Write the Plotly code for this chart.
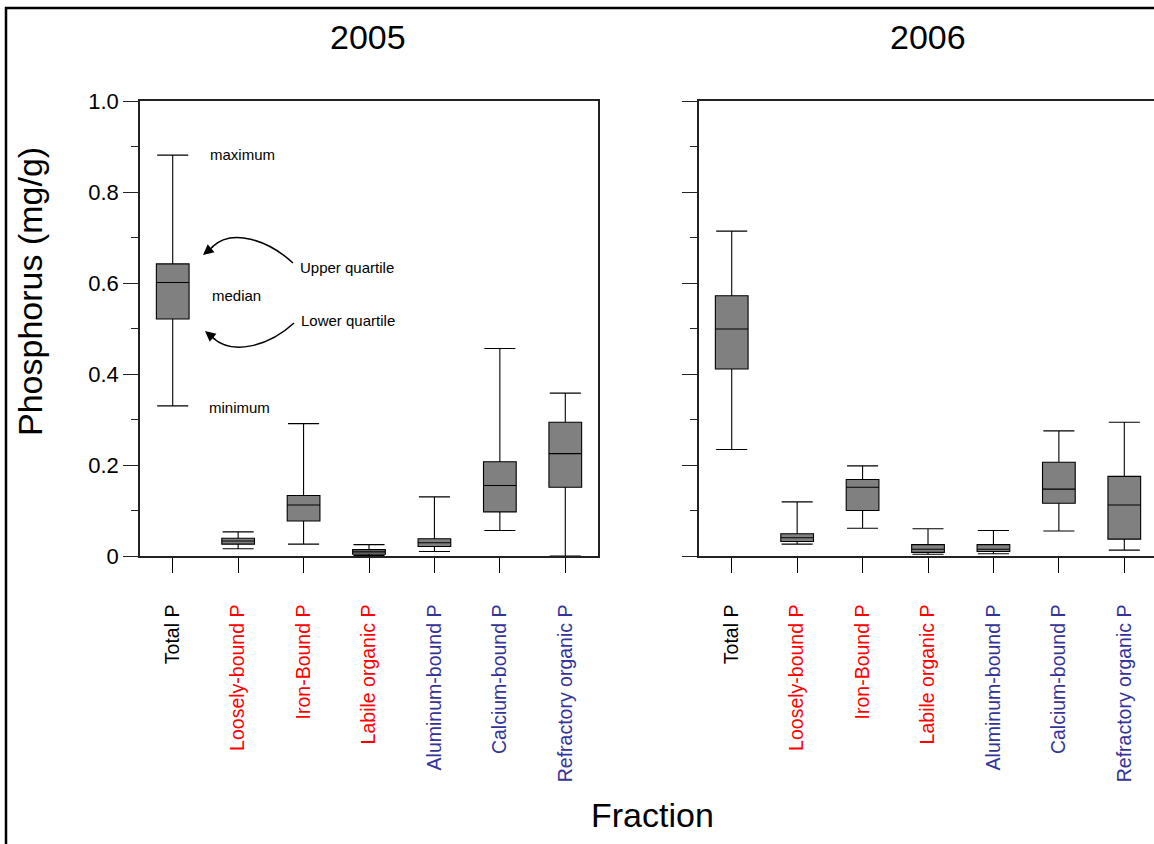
import plotly.graph_objects as go

W, H = 1154, 844

categories = ["Total P", "Loosely-bound P", "Iron-Bound P", "Labile organic P",
              "Aluminum-bound P", "Calcium-bound P", "Refractory organic P"]
label_colors = ["black", "red", "red", "red", "#333399", "#333399", "#333399"]

# 2005
min_2005 = [0.330, 0.016, 0.026, 0.001, 0.010, 0.056, 0.000]
q1_2005 = [0.521, 0.026, 0.077, 0.004, 0.021, 0.097, 0.151]
med_2005 = [0.601, 0.033, 0.112, 0.009, 0.029, 0.155, 0.225]
q3_2005 = [0.642, 0.039, 0.133, 0.014, 0.038, 0.207, 0.294]
max_2005 = [0.881, 0.053, 0.291, 0.025, 0.130, 0.456, 0.358]

# 2006
min_2006 = [0.234, 0.026, 0.061, 0.004, 0.005, 0.055, 0.013]
q1_2006 = [0.411, 0.032, 0.100, 0.008, 0.010, 0.116, 0.037]
med_2006 = [0.499, 0.040, 0.151, 0.015, 0.015, 0.147, 0.112]
q3_2006 = [0.572, 0.049, 0.168, 0.025, 0.025, 0.206, 0.175]
max_2006 = [0.714, 0.119, 0.198, 0.060, 0.056, 0.275, 0.294]

ytick_vals = [0, 0.2, 0.4, 0.6, 0.8, 1.0]
ytick_text = ["0", "0.2", "0.4", "0.6", "0.8", "1.0"]

FONT = "Liberation Sans, Arial, sans-serif"


def px(x):
    return x / W


def py(y):
    return 1 - y / H


fig = go.Figure()

box_style = dict(fillcolor="#808080", line=dict(color="black", width=1.1),
                 width=0.5, whiskerwidth=0.95, boxpoints=False,
                 showlegend=False, hoverinfo="skip")

fig.add_trace(go.Box(x=categories, q1=q1_2005, median=med_2005, q3=q3_2005,
                     lowerfence=min_2005, upperfence=max_2005,
                     xaxis="x", yaxis="y", **box_style))
fig.add_trace(go.Box(x=categories, q1=q1_2006, median=med_2006, q3=q3_2006,
                     lowerfence=min_2006, upperfence=max_2006,
                     xaxis="x2", yaxis="y2", **box_style))

ticktext = [f"<span style='color:{c}'>{t}</span>" for t, c in zip(categories, label_colors)]

axis_line = dict(showline=True, linecolor="#222", linewidth=1.5, showgrid=False,
                 zeroline=False, automargin=False)

xcommon = dict(type="category", tickmode="array", tickvals=categories,
               ticktext=ticktext, tickangle=-90, ticks="outside", ticklen=15,
               tickcolor="black", tickwidth=1, ticklabelstandoff=24,
               tickfont=dict(size=19.5, family=FONT), **axis_line)

ycommon = dict(range=[0, 1.0], tickmode="array", tickvals=ytick_vals,
               ticks="outside", ticklen=15, tickcolor="#222", tickwidth=1,
               minor=dict(ticks="outside", ticklen=7, dtick=0.1, tickcolor="#222",
                          tickwidth=1, showgrid=False),
               domain=[py(556), py(101)], **axis_line)

fig.update_layout(
    template="none",
    width=W, height=H,
    margin=dict(l=0, r=0, t=0, b=0, pad=0),
    paper_bgcolor="white", plot_bgcolor="white",
    font=dict(family=FONT, color="black"),
    xaxis=dict(domain=[px(140), px(598)], range=[-0.5, 6.5], anchor="y",
               mirror=True, **xcommon),
    xaxis2=dict(domain=[px(699), 1.0], range=[-0.5, -0.5 + 455 / 65.43],
                anchor="y2", mirror=True, **xcommon),
    yaxis=dict(anchor="x", mirror=True, ticktext=ytick_text,
               tickfont=dict(size=22, family=FONT), **ycommon),
    yaxis2=dict(anchor="x2", mirror=False, showticklabels=False, **ycommon),
)

annotations = [
    dict(text="2005", x=px(368), y=py(37), font=dict(size=34)),
    dict(text="2006", x=px(928), y=py(37), font=dict(size=34)),
    dict(text="Fraction", x=px(652), y=py(815), font=dict(size=34)),
    dict(text="Phosphorus (mg/g)", x=px(30), y=py(292), font=dict(size=34),
         textangle=-90),
    dict(text="maximum", x=px(208), y=py(155), font=dict(size=15), xanchor="left"),
    dict(text="median", x=px(210), y=py(295), font=dict(size=15), xanchor="left"),
    dict(text="minimum", x=px(207), y=py(407), font=dict(size=15), xanchor="left"),
    dict(text="Upper quartile", x=px(298), y=py(267), font=dict(size=15), xanchor="left"),
    dict(text="Lower quartile", x=px(299), y=py(321), font=dict(size=15), xanchor="left"),
]
for a in annotations:
    a.setdefault("xanchor", "center")
    a.update(xref="paper", yref="paper", showarrow=False, yanchor="middle")

# arrowheads for the curved pointers
annotations += [
    dict(x=px(203), y=py(255), ax=12, ay=-10, xref="paper", yref="paper",
         text="", showarrow=True, arrowhead=2, arrowsize=1.4, arrowwidth=1.5,
         arrowcolor="black", standoff=0),
    dict(x=px(205), y=py(331), ax=12, ay=10, xref="paper", yref="paper",
         text="", showarrow=True, arrowhead=2, arrowsize=1.4, arrowwidth=1.5,
         arrowcolor="black", standoff=0),
]
fig.update_layout(annotations=annotations)


def path(points):
    (x0, y0), (c1x, c1y), (c2x, c2y), (x1, y1) = points
    return (f"M {px(x0)},{py(y0)} C {px(c1x)},{py(c1y)} "
            f"{px(c2x)},{py(c2y)} {px(x1)},{py(y1)}")


shapes = [
    dict(type="path", xref="paper", yref="paper",
         path=path([(293, 263), (268, 240), (232, 228), (212, 247)]),
         line=dict(color="black", width=1.5)),
    dict(type="path", xref="paper", yref="paper",
         path=path([(294, 323), (268, 347), (232, 355), (213, 338)]),
         line=dict(color="black", width=1.5)),
    # outer frame
    dict(type="line", xref="paper", yref="paper", x0=px(6), x1=px(6), y0=py(7), y1=py(850),
         line=dict(color="black", width=2.5)),
    dict(type="line", xref="paper", yref="paper", x0=px(5), x1=px(1160), y0=py(8), y1=py(8),
         line=dict(color="black", width=2.5)),
]
fig.update_layout(shapes=shapes)

fig.write_html("out.html", config={"displayModeBar": False},
               post_script="document.body.style.margin='0px';")
